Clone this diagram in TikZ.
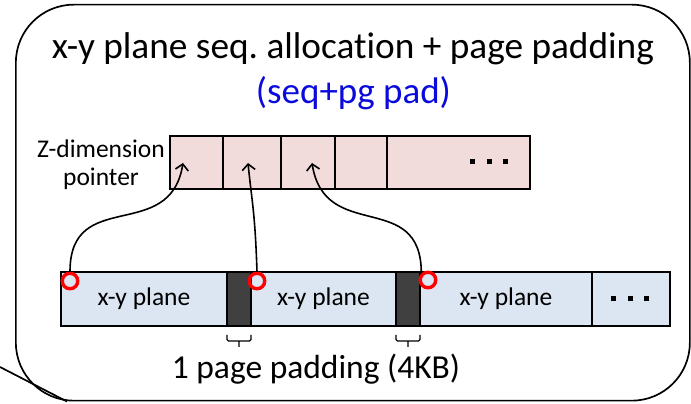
\documentclass[tikz,border=0pt]{standalone}
\usepackage{fontspec}
\setmainfont{Carlito}[Ligatures=NoCommon, RawFeature={-liga;-clig;-calt}]
\frenchspacing
\usetikzlibrary{arrows.meta, positioning, calc}
\definecolor{zpink}{HTML}{F2DCDB}
\definecolor{planeblue}{HTML}{DCE6F2}
\definecolor{paddark}{HTML}{404040}
\definecolor{titleblue}{RGB}{10,10,220}
\newcommand{\sqdots}{\rule{5pt}{5pt}\hspace{11.5pt}\rule{5pt}{5pt}\hspace{11.5pt}\rule{5pt}{5pt}}

\begin{document}
\begin{tikzpicture}[
    x=1pt, y=1pt,
    node distance=0pt,
    panel/.style={draw, line width=1.7pt, rounded corners=58pt, minimum width=674pt, minimum height=396pt, inner sep=0pt},
    zcell/.style={draw, fill=zpink, line width=1.6pt, minimum height=53pt, inner sep=0pt, outer sep=0pt},
    plane/.style={draw, fill=planeblue, line width=1.6pt, minimum height=54pt, inner sep=0pt, outer sep=0pt, font=\fontsize{25.5}{28}\selectfont},
    pad/.style={plane, fill=paddark, minimum width=24pt},
    ring/.style={circle, draw=red, line width=3.4pt, minimum size=15.5pt, inner sep=0pt},
    ptr/.style={-{Straight Barb[length=6pt, width=13pt, line width=1.6pt]}, line width=1.6pt},
    bracket/.style={line width=1.2pt, rounded corners=1.5pt},
    dots/.style={inner sep=0pt},
]
\useasboundingbox (0,0) rectangle (691,404);

% outer callout box
\node[panel, anchor=south west] (panel) at (15,2.5) {};
\coordinate (tail) at (0,37);
\draw[line width=1.7pt] (tail) -- ($(panel.south west)+(52,0)$);

\node[anchor=base, font=\fontsize{37.3}{40}\selectfont] (title) at (353,345) {x-y plane seq. allocation + page padding};
\node[anchor=base, font=\fontsize{37}{40}\selectfont, text=titleblue] (subtitle) at (353.5,300) {(seq+pg pad)};

% z-dimension pointer array
\node[zcell, minimum width=53pt, anchor=north west] (zc1) at (170,268) {};
\node[zcell, minimum width=58pt, right=of zc1] (zc2) {};
\node[zcell, minimum width=54pt, right=of zc2] (zc3) {};
\node[zcell, minimum width=52pt, right=of zc3] (zc4) {};
\node[zcell, minimum width=143pt, right=of zc4] (zc5) {};
\node[dots] (zdots) at ($(zc5.center)+(30.5,0.5)$) {\sqdots};
\node[font=\fontsize{25.5}{28}\selectfont, align=center, inner sep=0pt, left=5pt of zc1, yshift=-2pt] (zlabel) {Z-dimension\\pointer};

% x-y planes with page padding in between
\node[plane, minimum width=166pt, anchor=north west] (xy1) at (61,132) {x-y plane};
\node[pad, right=of xy1] (pad1) {};
\node[plane, minimum width=145pt, right=of pad1] (xy2) {x-y plane};
\node[pad, right=of xy2] (pad2) {};
\node[plane, minimum width=172pt, right=of pad2] (xy3) {x-y plane};
\node[plane, minimum width=78pt, right=of xy3] (more) {};
\node[dots] (xydots) at ($(more.center)+(-1,0)$) {\sqdots};

% plane start markers
\node[ring] (r1) at ($(xy1.north west)+(9,-9)$) {};
\node[ring] (r2) at ($(xy2.north west)+(6,-9)$) {};
\node[ring] (r3) at ($(xy3.north west)+(8,-8)$) {};

\coordinate (t1) at ($(zc1.center)+(-13.5,-0.5)$);
\coordinate (t2) at ($(zc2.center)+(-4,-0.5)$);
\coordinate (t3) at ($(zc3.center)+(4,-0.5)$);

\draw[ptr] (r1.north) .. controls +(0,85) and +(-13,-81) .. (t1);
\draw[ptr] (r2.north) .. controls +(-2,60) and +(4,-40) .. (t2);
\draw[ptr] (r3.north west) .. controls +(0,85) and +(13,-81) .. (t3);

% padding brackets
\foreach \p in {pad1,pad2}
  \draw[bracket] ([yshift=-9pt]\p.south west) -- ++(0,-6) -- ([yshift=-15pt]\p.south east) -- ++(0,6)
        ([yshift=-15pt]\p.south) -- ++(0,-6);

\node[anchor=base, font=\fontsize{33.5}{36}\selectfont] (padlabel) at (316,25) {1 page padding (4KB)};

\end{tikzpicture}
\end{document}
